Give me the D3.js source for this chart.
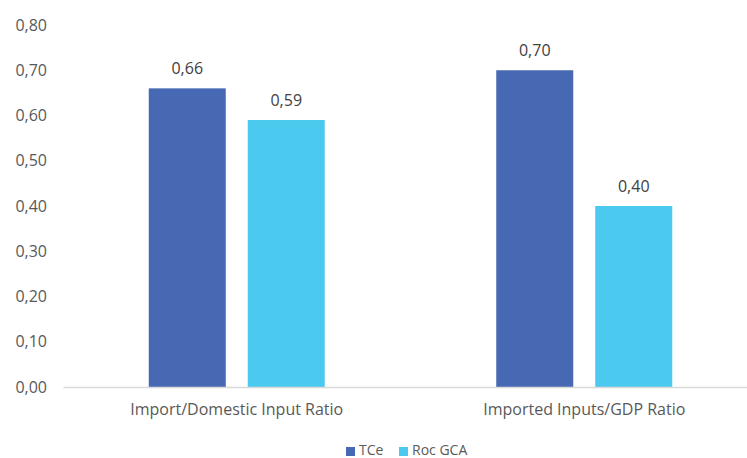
<!DOCTYPE html>
<html>
<head>
<meta charset="utf-8">
<script src="https://cdn.jsdelivr.net/npm/d3@7"></script>
<style>
  body { margin: 0; background: #fff; }
  svg { display: block; font-family: "Open Sans", "Noto Sans", sans-serif; }
</style>
</head>
<body>
<svg id="chart" width="747" height="458"></svg>
<script>
// Chart data
const categories = ["Import/Domestic Input Ratio", "Imported Inputs/GDP Ratio"];
const seriesNames = ["TCe", "Roc GCA"];
const tceValues = [0.66, 0.70];
const rocValues = [0.59, 0.40];
const yTicks = [0, 0.1, 0.2, 0.3, 0.4, 0.5, 0.6, 0.7, 0.8];
const colors = ["#4769B3", "#4BC9EE"];

const svg = d3.select("#chart");
const plot = { left: 63, right: 758, top: 25, bottom: 387 };

const fmt = v => d3.format(".2f")(v).replace(".", ",");

const x0 = d3.scaleBand().domain(categories).range([plot.left, plot.right]);
const bw = x0.bandwidth();
const clusterW = 176;
const x1 = d3.scaleBand().domain(seriesNames)
  .range([(bw - clusterW) / 2, (bw + clusterW) / 2])
  .paddingInner(0.222).paddingOuter(0);
const y = d3.scaleLinear().domain([0, 0.8]).range([plot.bottom, plot.top]);

// Y axis labels (no axis line or gridlines)
const yAxis = d3.axisLeft(y).tickValues(yTicks).tickFormat(fmt).tickSize(0).tickPadding(0);
const gy = svg.append("g").attr("transform", `translate(47,0)`).call(yAxis);
gy.select(".domain").remove();
gy.selectAll("text").attr("font-size", 16).attr("fill", "#595959")
  .attr("font-family", "\"Open Sans\", sans-serif");

// Bars
const rows = categories.map((c, i) => ({ cat: c, vals: [tceValues[i], rocValues[i]] }));
const groups = svg.append("g").selectAll("g").data(rows).join("g")
  .attr("transform", d => `translate(${x0(d.cat)},0)`);

const cells = d => d.vals.map((v, j) => ({ s: seriesNames[j], v, j }));

groups.selectAll("rect").data(cells).join("rect")
  .attr("x", d => x1(d.s))
  .attr("width", x1.bandwidth())
  .attr("y", d => y(d.v))
  .attr("height", d => y(0) - y(d.v))
  .attr("fill", d => colors[d.j]);

groups.selectAll("text.val").data(cells).join("text").attr("class", "val")
  .attr("x", d => x1(d.s) + x1.bandwidth() / 2)
  .attr("y", d => y(d.v) - 14)
  .attr("text-anchor", "middle")
  .attr("font-size", 16).attr("fill", "#404040")
  .text(d => fmt(d.v));

// Baseline / x axis
const xAxis = d3.axisBottom(x0).tickSize(0).tickPadding(17);
const gx = svg.append("g").attr("transform", `translate(0,${plot.bottom})`).call(xAxis);
gx.select(".domain").attr("stroke", "#D9D9D9").attr("stroke-width", 1.3);
gx.selectAll("text").attr("font-size", 16).attr("fill", "#595959")
  .attr("font-family", "\"Open Sans\", sans-serif");

// Legend
const legend = svg.append("g").attr("transform", "translate(346,455)");
const items = [{ name: seriesNames[0], c: colors[0], x: 0 }, { name: seriesNames[1], c: colors[1], x: 53 }];
const li = legend.selectAll("g").data(items).join("g").attr("transform", d => `translate(${d.x},0)`);
li.append("rect").attr("x", 0).attr("y", -8).attr("width", 9).attr("height", 9).attr("fill", d => d.c);
li.append("text").attr("x", 13).attr("y", 0).attr("font-size", 14).attr("fill", "#595959").text(d => d.name);
</script>
</body>
</html>
